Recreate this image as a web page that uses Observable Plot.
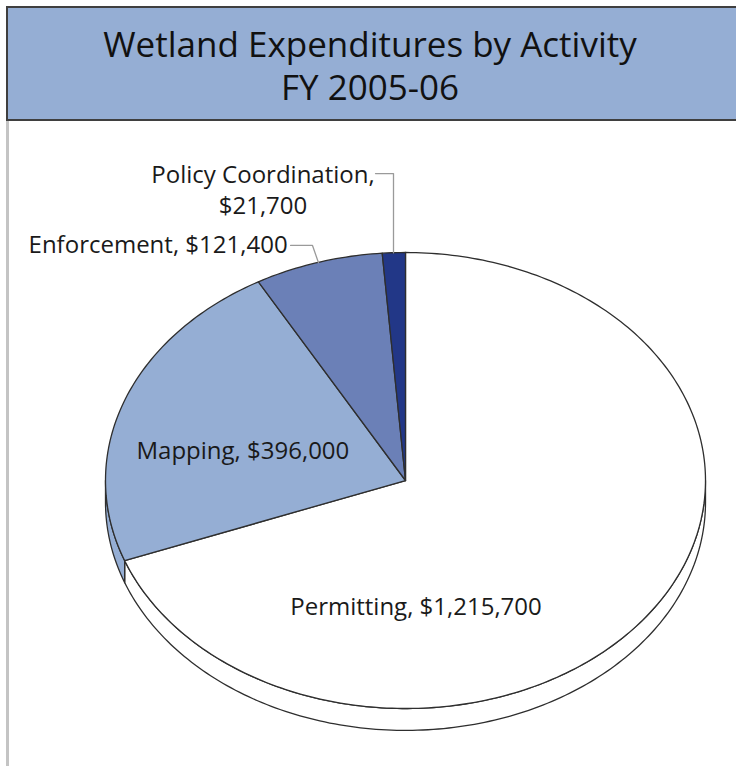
<!DOCTYPE html>
<html>
<head>
<meta charset="utf-8">
<script src="https://cdn.jsdelivr.net/npm/d3@7"></script>
<script src="https://cdn.jsdelivr.net/npm/@observablehq/plot@0.6"></script>
<style>
  html, body { margin: 0; padding: 0; background: #fff; width: 736px; height: 766px; overflow: hidden; }
  #title {
    position: absolute; left: 6px; top: 6px; width: 740px; height: 111px;
    background: #95aed4; border: 2px solid #3f3f3f; box-sizing: content-box;
    font-family: "Open Sans", "Noto Sans", sans-serif; color: #111;
    font-size: 35px; line-height: 43px; overflow: hidden;
  }
  #title .inner { position: absolute; left: -6px; width: 736px; top: 14px; text-align: center; }
  #title .inner div { height: 43px; }
  #leftline { position: absolute; left: 6px; top: 121px; width: 3px; height: 645px; background: #c4c4c4; }
  #chart { position: absolute; left: 0; top: 121px; }
</style>
</head>
<body>
<div id="title"><div class="inner"><div>Wetland Expenditures by Activity</div><div>FY 2005-06</div></div></div>
<div id="leftline"></div>
<div id="chart"></div>
<script>
const categories = ["Permitting", "Mapping", "Enforcement", "Policy Coordination"];
const values = [1215700, 396000, 121400, 21700];
const colors = ["#ffffff", "#95aed4", "#6b80b7", "#223787"];
const labels = ["Permitting, $1,215,700", "Mapping, $396,000", "Enforcement, $121,400", "Policy Coordination,\n$21,700"];

// layout (not data)
const depth = 0.096;
const labelPos = {
  "Permitting": {x: 0.035, y: -0.546, anchor: "middle"},
  "Mapping": {x: -0.542, y: 0.138, anchor: "middle"},
  "Enforcement": {x: -0.393, y: 1.042, anchor: "end"},
  "Policy Coordination": {x: -0.475, y: 1.281, anchor: "middle"}
};
const leaders = [
  {id: "Policy Coordination", pts: [[-0.1, 1.346], [-0.04, 1.346], [-0.04, 0.999]]},
  {id: "Enforcement", pts: [[-0.383, 1.031], [-0.31, 1.031], [-0.29, 0.955]]}
];

const total = d3.sum(values);
const slices = [];
let acc = 0;
categories.forEach((c, i) => {
  const a0 = acc / total * 360;
  acc += values[i];
  const a1 = acc / total * 360;
  slices.push({cat: c, a0, a1, color: colors[i], label: labels[i]});
});
const rad = d => d * Math.PI / 180;
function arc(a0, a1, dv) {
  const pts = [];
  const n = Math.max(2, Math.ceil(Math.abs(a1 - a0)));
  for (let k = 0; k <= n; k++) {
    const a = a0 + (a1 - a0) * k / n;
    pts.push([Math.sin(rad(a)), Math.cos(rad(a)) - dv]);
  }
  return pts;
}
const topPts = [];
const sidePts = [];
slices.forEach(s => {
  const pts = [[0, 0], ...arc(s.a0, s.a1, 0), [0, 0]];
  pts.forEach(([x, y]) => topPts.push({x, y, cat: s.cat, color: s.color}));
  const s0 = Math.max(s.a0, 90), s1 = Math.min(s.a1, 270);
  if (s1 > s0) {
    const p = [...arc(s0, s1, 0), ...arc(s1, s0, depth)];
    p.push(p[0]);
    p.forEach(([x, y]) => sidePts.push({x, y, cat: s.cat, color: s.color}));
  }
});
const labelData = slices.map(s => ({...labelPos[s.cat], text: s.label, cat: s.cat}));
const leaderPts = leaders.flatMap(l => l.pts.map(([x, y]) => ({x, y, id: l.id})));

const font = "'Open Sans', 'Noto Sans', sans-serif";
const textOpts = {x: "x", y: "y", text: "text", fontSize: 24, fill: "#1a1a1a", lineHeight: 1.3, fontFamily: font};
const plot = Plot.plot({
  width: 736,
  height: 645,
  margin: 0,
  style: {fontFamily: font, background: "transparent", overflow: "visible"},
  x: {domain: [-1, 1], range: [105, 705], axis: null},
  y: {domain: [-1, 1], range: [587, 131], axis: null},
  marks: [
    Plot.line(sidePts, {x: "x", y: "y", z: "cat", fill: "color", stroke: "#2e2e2e", strokeWidth: 1.3, curve: "linear"}),
    Plot.line(topPts, {x: "x", y: "y", z: "cat", fill: "color", stroke: "#2e2e2e", strokeWidth: 1.3, strokeLinejoin: "round", curve: "linear"}),
    Plot.line(leaderPts, {x: "x", y: "y", z: "id", stroke: "#9a9a9a", strokeWidth: 1.3}),
    Plot.text(labelData.filter(d => d.anchor === "middle"), {...textOpts, textAnchor: "middle"}),
    Plot.text(labelData.filter(d => d.anchor === "end"), {...textOpts, textAnchor: "end"})
  ]
});
document.getElementById("chart").appendChild(plot);
</script>
</body>
</html>
